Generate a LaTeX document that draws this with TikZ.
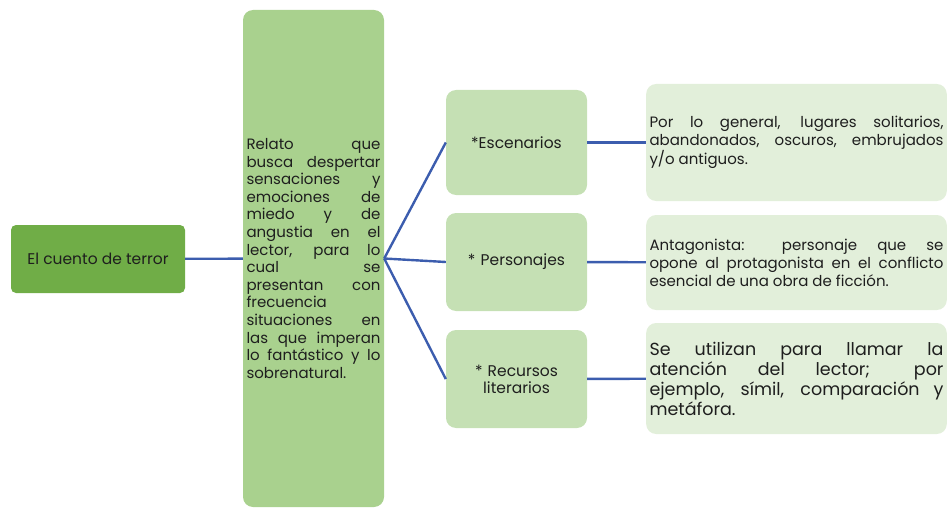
\documentclass[tikz,border=0pt]{standalone}
\usepackage{fontspec}
\setmainfont{Poppins}
\usepackage{xcolor}
\usetikzlibrary{positioning}
\definecolor{rootColor}{HTML}{70AD47}
\definecolor{defColor}{HTML}{A9D18E}
\definecolor{typeColor}{HTML}{C5E0B4}
\definecolor{descColor}{HTML}{E2EFDA}
\definecolor{lineColor}{HTML}{3C5DAE}
\definecolor{textColor}{HTML}{1E1E1E}
\tikzstyle{root} = [rectangle, rounded corners=5pt, minimum width=174pt, minimum height=68pt, text centered, fill=rootColor, text=textColor, font=\fontsize{15.5}{18}\selectfont]
\tikzstyle{definition} = [rectangle, rounded corners=10pt, minimum width=141pt, minimum height=497pt, text width=134pt, align=justify, fill=defColor, text=textColor, font=\fontsize{15}{17.6}\selectfont]
\tikzstyle{kind} = [rectangle, rounded corners=10pt, minimum width=141pt, text width=130pt, align=center, fill=typeColor, text=textColor, font=\fontsize{15.5}{17}\selectfont]
\tikzstyle{desc} = [rectangle, rounded corners=10pt, minimum width=299pt, text width=294pt, align=justify, fill=descColor, text=textColor, font=\fontsize{15}{18}\selectfont]
\tikzstyle{link} = [line width=2.4pt, draw=lineColor]

\begin{document}
\begin{tikzpicture}[x=1pt, y=1pt]
	\useasboundingbox (0,0) rectangle (948,-508);
	\hyphenpenalty=10000
	\node (cuento) [root] at (98,-259) {El cuento de terror};
	\node (relato) [definition] at (313.5,-258.5) {Relato que\linebreak busca despertar\linebreak sensaciones y\linebreak emociones de\linebreak miedo y de\linebreak angustia en el\linebreak lector, para lo\linebreak cual se\linebreak presentan con\linebreak frecuencia situaciones en\linebreak las que imperan\linebreak lo fantástico y lo\linebreak sobrenatural.};
	
	\node (esc) [kind, minimum height=105pt] at (516.5,-142.5) {*Escenarios};
	\node (per) [kind, minimum height=98pt] at (516.5,-262) {* Personajes};
	\node (rec) [kind, minimum height=98pt] at (516.5,-379) {* Recursos\\literarios};
	
	\node (escdesc) [desc, minimum height=117pt] at (796.5,-142.5) {Por lo general, lugares solitarios,\linebreak abandonados, oscuros, embrujados\linebreak y/o antiguos.};
	\node (perdesc) [desc, minimum height=95pt] at (796.5,-262.5) {Antagonista: personaje que se\linebreak opone al protagonista en el conflicto\linebreak esencial de una obra de ficción.};
	\node (recdesc) [desc, minimum height=111pt, font=\fontsize{17.5}{20}\selectfont] at (796.5,-378.5) {Se utilizan para llamar la\linebreak atención del lector; por\linebreak ejemplo, símil, comparación y\linebreak metáfora.};
	
	\draw[link] (cuento) -- (relato);
	\draw[link] (relato.east) -- (esc.west);
	\draw[link] (relato.east) -- (per.west);
	\draw[link] (relato.east) -- (rec.west);
	\draw[link] (esc) -- (escdesc);
	\draw[link] (per) -- (perdesc);
	\draw[link] (rec) -- (recdesc);
\end{tikzpicture}
\end{document}
